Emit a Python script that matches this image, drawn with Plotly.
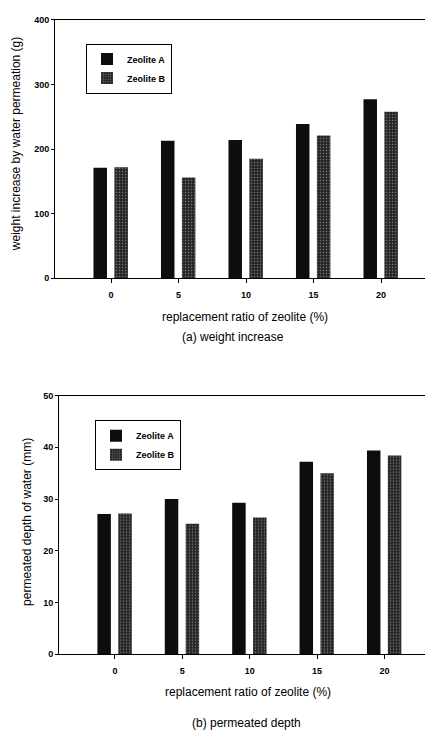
import plotly.graph_objects as go

ratios = [0, 5, 10, 15, 20]
weight_a = [171, 213, 214, 239, 277]
weight_b = [172, 156, 185, 221, 258]
depth_a = [27.1, 30.0, 29.3, 37.2, 39.4]
depth_b = [27.2, 25.2, 26.4, 35.0, 38.4]
series_names = ["Zeolite A", "Zeolite B"]

FONT = "Liberation Sans, Arial, sans-serif"
pat_b = dict(shape=".", bgcolor="#262626", fgcolor="#d0d0d0", size=3, solidity=0.2)

W, H = 425, 727  # page has an 8px body margin


def fx(px):
    return (px - 8) / W


def fy(py):
    return 1 - (py - 8) / H


fig = go.Figure()
for xa, ya, lg, va, vb in [("x", "y", "legend", weight_a, weight_b),
                           ("x2", "y2", "legend2", depth_a, depth_b)]:
    fig.add_trace(go.Bar(x=ratios, y=va, name=series_names[0], width=1.0, offset=-1.3,
                         marker=dict(color="#0d0d0d", line=dict(width=0)),
                         xaxis=xa, yaxis=ya, legend=lg))
    fig.add_trace(go.Bar(x=ratios, y=vb, name=series_names[1], width=1.0, offset=0.25,
                         marker=dict(color="#262626", pattern=pat_b, line=dict(width=0)),
                         xaxis=xa, yaxis=ya, legend=lg))

tickfont = dict(family=FONT, size=9, color="black", weight="bold")
xcommon = dict(tickvals=ratios, ticks="outside", ticklen=4, tickcolor="black",
               ticklabelstandoff=4,
               showline=True, linecolor="black", linewidth=1, mirror=True,
               showgrid=False, zeroline=False, tickfont=tickfont)
ycommon = dict(ticks="outside", ticklen=3, tickcolor="black",
               showline=True, linecolor="black", linewidth=1,
               showgrid=False, zeroline=False, tickfont=tickfont)

legend_style = dict(bordercolor="black", borderwidth=1, bgcolor="white",
                    font=dict(family=FONT, size=9, color="black", weight="bold"),
                    xanchor="left", yanchor="top", tracegroupgap=0, itemwidth=30)

fig.update_layout(
    width=W, height=H,
    margin=dict(l=0, r=0, t=0, b=0),
    paper_bgcolor="white", plot_bgcolor="white",
    barmode="overlay",
    xaxis=dict(domain=[fx(55), 1.0], range=[-4.15, 23.85], anchor="y", **xcommon),
    yaxis=dict(domain=[fy(277), fy(15)], range=[0, 400], tickvals=[0, 100, 200, 300, 400],
               anchor="x", **ycommon),
    xaxis2=dict(domain=[fx(59), 1.0], range=[-4.15, 23.6], anchor="y2", **xcommon),
    yaxis2=dict(domain=[fy(658), fy(396)], range=[0, 50], tickvals=[0, 10, 20, 30, 40, 50],
                anchor="x2", **ycommon),
    legend=dict(x=fx(86), y=fy(39), **legend_style),
    legend2=dict(x=fx(95), y=fy(421), **legend_style),
)

afont = dict(family=FONT, size=12, color="black")


def ann(text, px, py, angle=0):
    fig.add_annotation(text=text, x=fx(px), y=fy(py), xref="paper", yref="paper",
                       xanchor="center", yanchor="middle", textangle=angle,
                       showarrow=False, font=afont)


ann("weight increase by water permeation (g)", 16, 141, -90)
ann("replacement ratio of zeolite (%)", 245, 316)
ann("(a) weight increase", 233, 337)
ann("permeated depth of water (mm)", 27, 524, -90)
ann("replacement ratio of zeolite (%)", 248, 696)
ann("(b) permeated depth", 246, 728)

fig.write_html("out.html")
